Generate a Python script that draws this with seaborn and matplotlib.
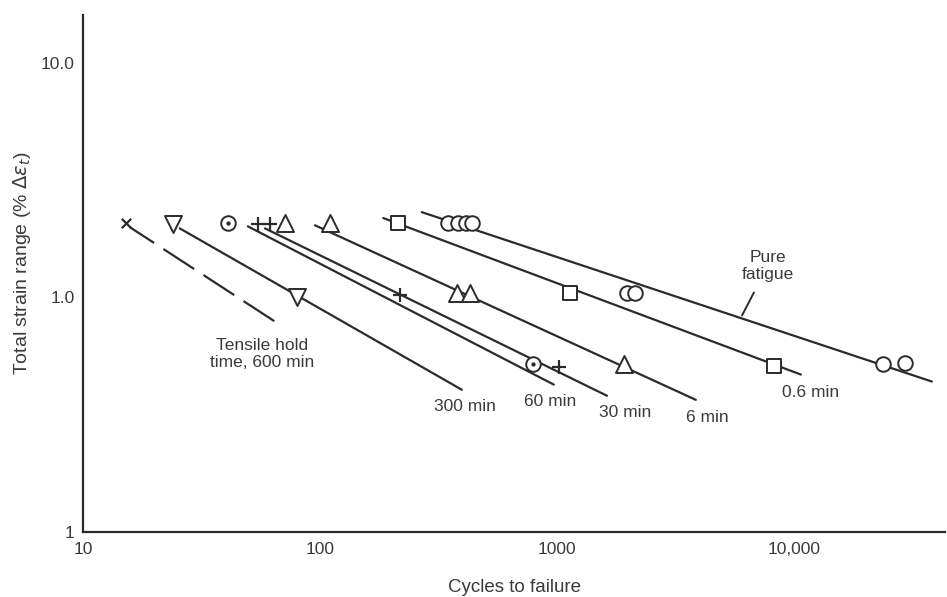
import numpy as np
import pandas as pd
import matplotlib
matplotlib.use("Agg")
import matplotlib.pyplot as plt
import seaborn as sns

# ---- data ----
# fitted lines: (cycles, strain) at both ends
pure_line_x = [269, 38200]
pure_line_y = [2.31, 0.438]
min06_line_x = [185, 10700]
min06_line_y = [2.18, 0.469]
min6_line_x = [95.3, 3855]
min6_line_y = [2.03, 0.366]
min30_line_x = [58.6, 1626]
min30_line_y = [1.97, 0.381]
min60_line_x = [49.6, 970]
min60_line_y = [2.01, 0.425]
min300_line_x = [25.6, 397]
min300_line_y = [1.97, 0.404]
min600_line_x = [15.8, 66.5]
min600_line_y = [1.99, 0.774]

# data points
pure_x = [347, 382, 413, 438, 1973, 2134, 23800, 29400]
pure_y = [2.07, 2.07, 2.07, 2.07, 1.04, 1.04, 0.522, 0.527]
min06_x = [213, 1135, 8240]
min06_y = [2.07, 1.04, 0.512]
min6_x = [71, 110, 378, 430, 1920]
min6_y = [2.07, 2.07, 1.04, 1.04, 0.522]
min30_x = [54.7, 61.5, 218, 1019]
min30_y = [2.05, 2.05, 1.02, 0.507]
min60_x = [40.9, 792]
min60_y = [2.07, 0.522]
min300_x = [24.0, 80]
min300_y = [2.05, 1.0]
min600_x = [15.2]
min600_y = [2.07]

x_ticks = [10, 100, 1000, 10000]
x_ticklabels = ["10", "100", "1000", "10,000"]
y_ticks = [0.1, 1.0, 10.0]
y_ticklabels = ["1", "1.0", "10.0"]

# ---- style ----
sns.set_theme(style="white")
plt.rcParams["font.family"] = ["Liberation Sans", "DejaVu Sans"]
plt.rcParams["mathtext.fontset"] = "dejavusans"
INK = "#2b2b2b"
TXT = "#3a3a3a"

fig = plt.figure(figsize=(9.47, 5.97), dpi=100)
ax = fig.add_axes([83/947, 1-532/597, (945-83)/947, (532-15)/597])

lw = 1.6
lines = [
    (pure_line_x, pure_line_y),
    (min06_line_x, min06_line_y),
    (min6_line_x, min6_line_y),
    (min30_line_x, min30_line_y),
    (min60_line_x, min60_line_y),
    (min300_line_x, min300_line_y),
]
for lx, ly in lines:
    sns.lineplot(x=lx, y=ly, ax=ax, color=INK, lw=lw, sort=False, estimator=None)
sns.lineplot(x=min600_line_x, y=min600_line_y, ax=ax, color=INK, lw=lw,
             sort=False, estimator=None, dashes=False)
ax.lines[-1].set_linestyle((3.6, (16.5, 5.0)))
ax.lines[-1].set_dash_capstyle("butt")

def open_pts(x, y, marker, s):
    sns.scatterplot(x=x, y=y, ax=ax, marker=marker, s=s, facecolors="white",
                    edgecolor=INK, linewidth=1.4, zorder=5)

open_pts(pure_x, pure_y, "o", 110)
open_pts(min06_x, min06_y, "s", 110)
open_pts(min6_x, min6_y, "^", 150)
open_pts(min300_x, min300_y, "v", 150)
open_pts(min60_x, min60_y, "o", 110)
sns.scatterplot(x=min60_x, y=min60_y, ax=ax, marker="o", s=8, color=INK,
                edgecolor=INK, zorder=6)
sns.scatterplot(x=min30_x, y=min30_y, ax=ax, marker="+", s=90, color=INK,
                linewidth=1.6, zorder=5)
sns.scatterplot(x=min600_x, y=min600_y, ax=ax, marker="x", s=45, color=INK,
                linewidth=1.6, zorder=5)

# ---- axes ----
ax.set_xscale("log")
ax.set_yscale("log")
ax.set_xlim(10, 43400)
ax.set_ylim(0.1, 16)
ax.set_xticks(x_ticks)
ax.set_xticklabels(x_ticklabels)
ax.set_yticks(y_ticks)
ax.set_yticklabels(y_ticklabels)
ax.minorticks_off()
ax.tick_params(axis="both", direction="in", length=12, width=1.4, color=INK,
               labelsize=12.5, labelcolor=TXT)
ax.tick_params(axis="x", pad=7)
ax.tick_params(axis="y", pad=6)
for side in ["top", "right"]:
    ax.spines[side].set_visible(False)
for side in ["left", "bottom"]:
    ax.spines[side].set_color(INK)
    ax.spines[side].set_linewidth(1.6)

ax.set_xlabel("Cycles to failure", fontsize=13.5, color=TXT, labelpad=16)
ax.set_ylabel(r"Total strain range (% $\Delta\varepsilon_t$)", fontsize=14,
              color=TXT)
ax.yaxis.set_label_coords(-0.058, 0.52)

# ---- annotations ----
fs = 12.5
ax.text(7760, 1.36, "Pure\nfatigue", ha="center", va="center", fontsize=fs,
        color=TXT, linespacing=1.15)
ax.plot([6040, 6780], [0.838, 1.05], color=INK, lw=1.4)
ax.text(11700, 0.393, "0.6 min", ha="center", va="center", fontsize=fs, color=TXT)
ax.text(4300, 0.307, "6 min", ha="center", va="center", fontsize=fs, color=TXT)
ax.text(1936, 0.323, "30 min", ha="center", va="center", fontsize=fs, color=TXT)
ax.text(933, 0.360, "60 min", ha="center", va="center", fontsize=fs, color=TXT)
ax.text(409, 0.342, "300 min", ha="center", va="center", fontsize=fs, color=TXT)
ax.text(56.9, 0.576, "Tensile hold\ntime, 600 min", ha="center", va="center",
        fontsize=fs, color=TXT, linespacing=1.15)

fig.savefig("out.png", dpi=100, facecolor="white")
